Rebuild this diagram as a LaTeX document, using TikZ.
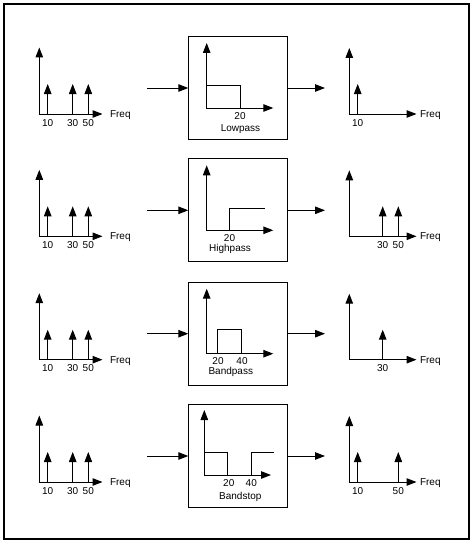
\documentclass[tikz,border=0pt]{standalone}
\usepackage{fontspec}
\setmainfont{Liberation Sans}
\usetikzlibrary{arrows.meta}
\begin{document}
\begin{tikzpicture}[x=1pt,y=-1pt,line width=1pt,
  tip/.tip={Triangle[length=10pt,width=7.5pt]},
  ax/.style={-tip},
  axes/.style={tip-tip},
  lbl/.style={font=\fontsize{10}{12}\selectfont,inner sep=0pt,anchor=base},
  freq/.style={lbl,anchor=base west},
  fbox/.style={draw,minimum width=98.4pt,minimum height=103pt,inner sep=0pt,anchor=north west}]
\useasboundingbox (0,0) rectangle (473,543);
\draw[line width=1.3pt] (4,4) rectangle (469,539);
% ---------------- Row 1: Lowpass
\begin{scope}[shift={(0,36)}]
  \draw[axes] (39.3,11.5) -- (39.3,78) -- (102.5,78);
  \foreach \x in {47.7,72.7,88.3} \draw[ax] (\x,78) -- (\x,48);
  \node[freq] (fa1) at (109.5,81.3) {Freq};
  \node[lbl] (ta1) at (47.7,90) {10};
  \node[lbl] (tb1) at (72.7,90) {30};
  \node[lbl] (tc1) at (88.3,90) {50};
  \node[fbox] (box1) at (188.3,0) {};
  \draw[axes] (206.7,7) -- (206.7,72) -- (273.3,72);
  \draw (206.7,49.7) -| (240,72);
  \node[lbl] (fl1) at (240,83) {20};
  \node[lbl] (fn1) at (240.5,95.5) {Lowpass};
  \coordinate (in1) at (147,52);
  \coordinate (out1) at (325,52);
  \draw[ax] (in1) -- (in1 -| box1.west);
  \draw[ax] (in1 -| box1.east) -- (out1);
  \draw[axes] (349.3,12) -- (349.3,78) -- (416.5,78);
  \draw[ax] (357.7,78) -- (357.7,48);
  \node[freq] (fo1) at (419.5,81.3) {Freq};
  \node[lbl] (to1) at (357.7,90) {10};
\end{scope}
% ---------------- Row 2: Highpass
\begin{scope}[shift={(0,158.3)}]
  \draw[axes] (39.3,11.5) -- (39.3,78) -- (102.5,78);
  \foreach \x in {47.7,72.7,88.3} \draw[ax] (\x,78) -- (\x,48);
  \node[freq] (fa2) at (109.5,81.3) {Freq};
  \node[lbl] (ta2) at (47.7,90) {10};
  \node[lbl] (tb2) at (72.7,90) {30};
  \node[lbl] (tc2) at (88.3,90) {50};
  \node[fbox] (box2) at (188.3,0) {};
  \draw[axes] (206.7,7) -- (206.7,72) -- (273.3,72);
  \draw (229.3,72) |- (265,50);
  \node[lbl] (fl2) at (229.5,83) {20};
  \node[lbl] (fn2) at (230,93.5) {Highpass};
  \coordinate (in2) at (147,52);
  \coordinate (out2) at (325,52);
  \draw[ax] (in2) -- (in2 -| box2.west);
  \draw[ax] (in2 -| box2.east) -- (out2);
  \draw[axes] (349.3,12) -- (349.3,78) -- (416.5,78);
  \draw[ax] (382.7,78) -- (382.7,48);
  \draw[ax] (398.3,78) -- (398.3,48);
  \node[freq] (fo2) at (419.5,81.3) {Freq};
  \node[lbl] (tob2) at (382.7,90) {30};
  \node[lbl] (toc2) at (398.3,90) {50};
\end{scope}
% ---------------- Row 3: Bandpass
\begin{scope}[shift={(0,281.7)}]
  \draw[axes] (39.3,11.5) -- (39.3,78) -- (102.5,78);
  \foreach \x in {47.7,72.7,88.3} \draw[ax] (\x,78) -- (\x,48);
  \node[freq] (fa3) at (109.5,81.3) {Freq};
  \node[lbl] (ta3) at (47.7,90) {10};
  \node[lbl] (tb3) at (72.7,90) {30};
  \node[lbl] (tc3) at (88.3,90) {50};
  \node[fbox] (box3) at (188.3,0) {};
  \draw[axes] (206.7,7) -- (206.7,72) -- (273.3,72);
  \draw (217.3,72) |- (241.3,47.6) -- (241.3,72);
  \node[lbl] (fl3) at (218,83) {20};
  \node[lbl] (fm3) at (242,83) {40};
  \node[lbl] (fn3) at (230.8,93) {Bandpass};
  \coordinate (in3) at (147,52);
  \coordinate (out3) at (325,52);
  \draw[ax] (in3) -- (in3 -| box3.west);
  \draw[ax] (in3 -| box3.east) -- (out3);
  \draw[axes] (349.3,12) -- (349.3,78) -- (416.5,78);
  \draw[ax] (382.7,78) -- (382.7,48);
  \node[freq] (fo3) at (419.5,81.3) {Freq};
  \node[lbl] (tob3) at (382.7,90) {30};
\end{scope}
% ---------------- Row 4: Bandstop
\begin{scope}[shift={(0,404)}]
  \draw[axes] (39.3,11.5) -- (39.3,78) -- (102.5,78);
  \foreach \x in {47.7,72.7,88.3} \draw[ax] (\x,78) -- (\x,48);
  \node[freq] (fa4) at (109.5,81.3) {Freq};
  \node[lbl] (ta4) at (47.7,90) {10};
  \node[lbl] (tb4) at (72.7,90) {30};
  \node[lbl] (tc4) at (88.3,90) {50};
  \node[fbox] (box4) at (188.3,0) {};
  \draw[axes] (204.3,6) -- (204.3,71) -- (271,71);
  \draw (204.3,48) -| (227.3,71);
  \draw (251,71) |- (274.3,48);
  \node[lbl] (fl4) at (228.8,82) {20};
  \node[lbl] (fm4) at (251.3,82) {40};
  \node[lbl] (fn4) at (240.3,95) {Bandstop};
  \coordinate (in4) at (147,52);
  \coordinate (out4) at (325,52);
  \draw[ax] (in4) -- (in4 -| box4.west);
  \draw[ax] (in4 -| box4.east) -- (out4);
  \draw[axes] (349.3,12) -- (349.3,78) -- (416.5,78);
  \draw[ax] (357.7,78) -- (357.7,48);
  \draw[ax] (398.3,78) -- (398.3,48);
  \node[freq] (fo4) at (419.5,81.3) {Freq};
  \node[lbl] (toa4) at (357.7,90) {10};
  \node[lbl] (toc4) at (398.3,90) {50};
\end{scope}
\end{tikzpicture}
\end{document}
